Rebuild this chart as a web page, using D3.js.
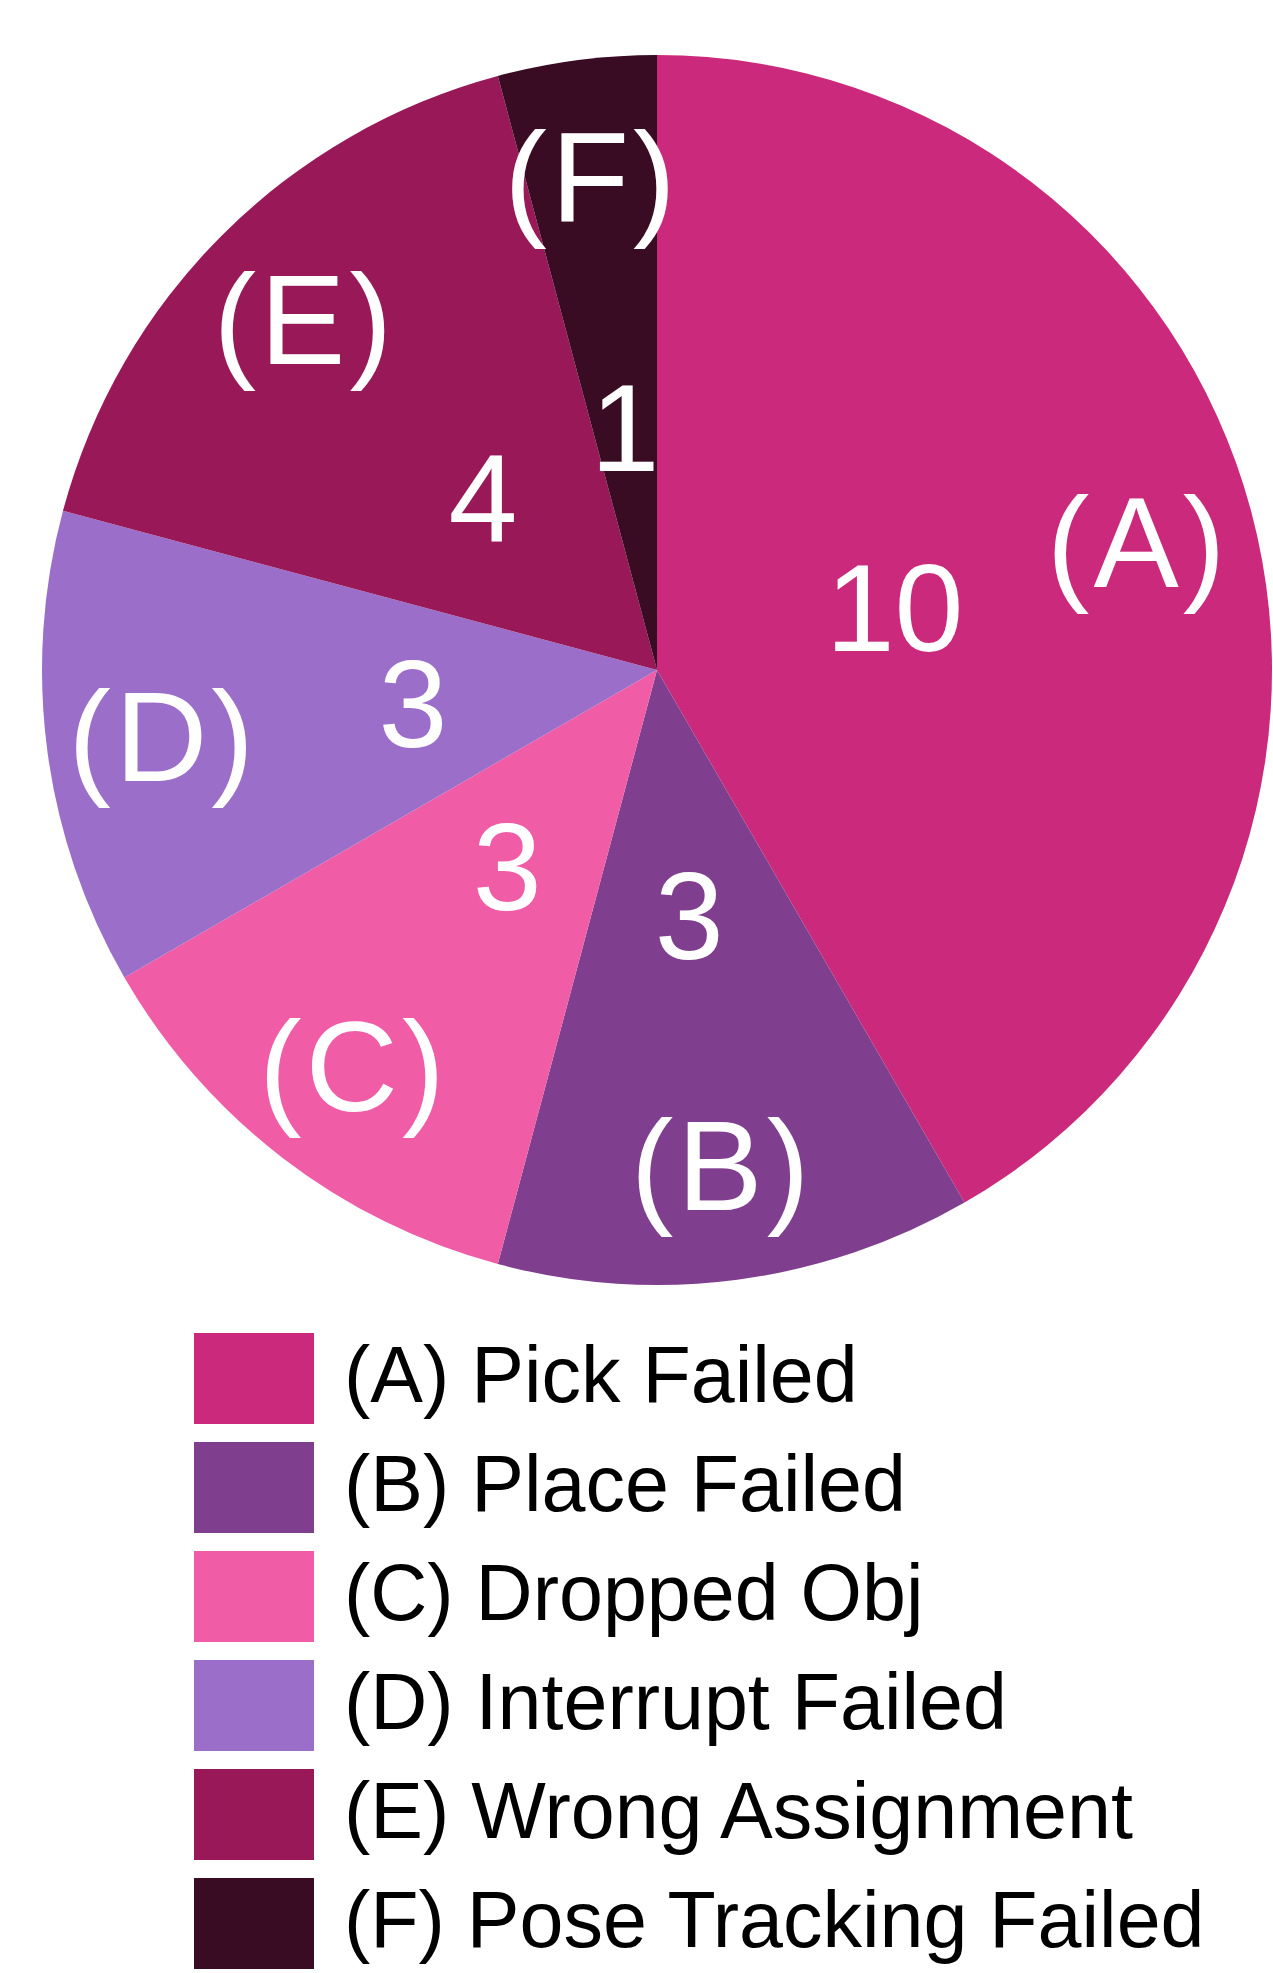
<!DOCTYPE html>
<html>
<head>
<meta charset="utf-8">
<script src="https://cdn.jsdelivr.net/npm/d3@7"></script>
<style>
  body { margin: 0; background: #fff; }
  text { font-family: "Liberation Sans", Arial, sans-serif; }
</style>
</head>
<body>
<svg id="chart"></svg>
<script>
const svgWidth = 1273;
const svgHeight = 1973;

// failure categories, counts and colours, in drawing order (clockwise from top)
const letters = ["A", "B", "C", "D", "E", "F"];
const names = ["Pick Failed", "Place Failed", "Dropped Obj", "Interrupt Failed", "Wrong Assignment", "Pose Tracking Failed"];
const counts = [10, 3, 3, 3, 4, 1];
const colors = ["#cb297b", "#7f3f8e", "#f05da6", "#9b6eca", "#981858", "#390c23"];

const cx = 657, cy = 670, radius = 615;

const svg = d3.select("#chart")
    .attr("width", svgWidth)
    .attr("height", svgHeight);

const data = letters.map((l, i) => ({ letter: l, name: names[i], count: counts[i], color: colors[i] }));

const pie = d3.pie()
    .sort(null)
    .value(d => d.count);

const arcs = pie(data);

const arc = d3.arc().innerRadius(0).outerRadius(radius);
const innerLabel = d3.arc().innerRadius(radius * 0.40).outerRadius(radius * 0.40);
const outerLabel = d3.arc().innerRadius(radius * 0.81).outerRadius(radius * 0.81);

const g = svg.append("g")
    .attr("transform", `translate(${cx},${cy})`);

g.selectAll("path.slice")
    .data(arcs)
    .enter()
    .append("path")
    .attr("class", "slice")
    .attr("d", arc)
    .attr("fill", d => d.data.color);

// count in the middle of each slice
g.selectAll("text.count")
    .data(arcs)
    .enter()
    .append("text")
    .attr("class", "count")
    .attr("transform", d => `translate(${innerLabel.centroid(d)})`)
    .attr("text-anchor", "middle")
    .attr("dy", "0.36em")
    .attr("fill", "#fff")
    .style("font-size", "124px")
    .text(d => d.data.count);

// letter near the rim
g.selectAll("text.letter")
    .data(arcs)
    .enter()
    .append("text")
    .attr("class", "letter")
    .attr("transform", d => `translate(${outerLabel.centroid(d)})`)
    .attr("text-anchor", "middle")
    .attr("dy", "0.36em")
    .attr("fill", "#fff")
    .style("font-size", "128px")
    .style("letter-spacing", "4px")
    .text(d => `(${d.data.letter})`);

// legend
const legendX = 194, legendY = 1333, rowStep = 109;
const boxW = 120, boxH = 91;

const legend = svg.append("g")
    .attr("transform", `translate(${legendX},${legendY})`);

const rows = legend.selectAll("g.row")
    .data(data)
    .enter()
    .append("g")
    .attr("class", "row")
    .attr("transform", (d, i) => `translate(0,${i * rowStep})`);

rows.append("rect")
    .attr("width", boxW)
    .attr("height", boxH)
    .attr("fill", d => d.color);

rows.append("text")
    .attr("x", boxW + 30)
    .attr("y", 69)
    .attr("fill", "#000")
    .style("font-size", "79px")
    .text(d => `(${d.letter}) ${d.name}`);
</script>
</body>
</html>
